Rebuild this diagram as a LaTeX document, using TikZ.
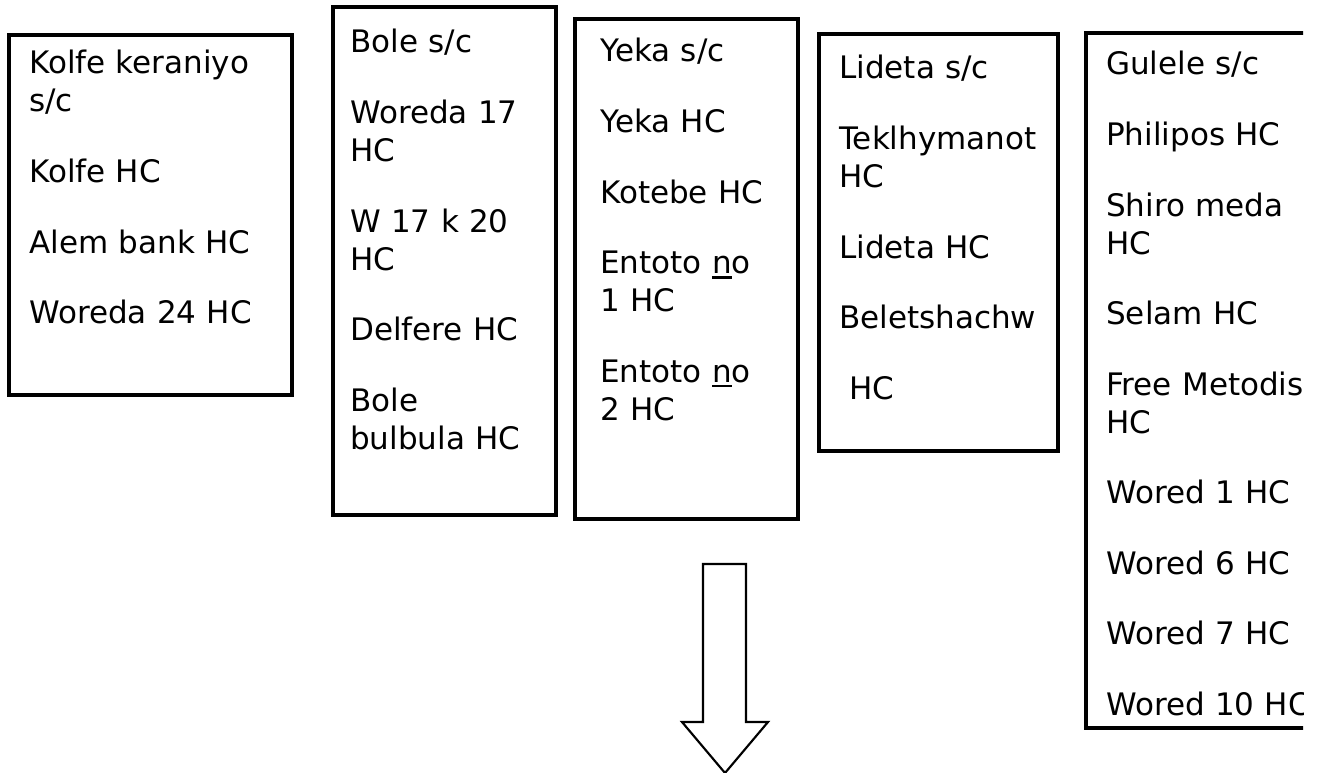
\documentclass[tikz,border=0pt]{standalone}
\usepackage{fontspec}
\setmainfont{DejaVu Sans}
\usetikzlibrary{calc}
\usetikzlibrary{positioning}

\newcommand{\paragap}{\\[24.4pt]}
\newcommand{\thickul}[1]{\setbox0\hbox{#1}\rlap{\rule[-3.8pt]{\wd0}{2pt}}\box0}

\begin{document}
\begin{tikzpicture}[x=0.75pt, y=-0.75pt,
        unit/.style={rectangle, draw, line width=2.5pt, anchor=north west, inner sep=0pt, outer sep=0pt},
        list/.style={anchor=base west, inner sep=0pt, text width=230pt, align=left, font=\fontsize{23.25}{28.5}\selectfont}]

        \useasboundingbox (0,0) rectangle (1321,773);

        % sub-city boxes
        \node[unit, minimum width=212.25pt, minimum height=270pt] (kolfe) at (9,35) {};
        \node[unit, minimum width=167.25pt, minimum height=381pt] (bole) at (333,7) {};
        \node[unit, minimum width=167.25pt, minimum height=375pt] (yeka) at (575,19) {};
        \node[unit, minimum width=179.25pt, minimum height=312.75pt] (lideta) at (819,34) {};

        % health centres
        \node[list] (kolfe list) at ($(kolfe.north west) + (20,39)$)
            {Kolfe keraniyo\\ s/c\paragap Kolfe HC\paragap Alem bank HC\paragap Woreda 24 HC};
        \node[list] (bole list) at ($(bole.north west) + (17,46)$)
            {Bole s/c\paragap Woreda 17\\ HC\paragap W 17 k 20\\ HC\paragap Delfere HC\paragap Bole\\ bulbula HC};
        \node[list] (yeka list) at ($(yeka.north west) + (25,43)$)
            {Yeka s/c\paragap Yeka HC\paragap Kotebe HC\paragap Entoto \thickul{n}o\\ 1 HC\paragap Entoto \thickul{n}o\\ 2 HC};
        \node[list] (lideta list) at ($(lideta.north west) + (20,45)$)
            {Lideta s/c\paragap Teklhymanot\\ HC\paragap Lideta HC\paragap Beletshachw\paragap \hspace*{.32em}HC};

        % last box runs off the page
        \begin{scope}
            \clip (1080,0) rectangle (1303,773);
            \node[unit, minimum width=225pt, minimum height=521.25pt] (gulele) at (1086,33) {};
            \node[list] (gulele list) at ($(gulele.north west) + (20,42)$)
                {Gulele s/c\paragap Philipos HC\paragap Shiro meda\\ HC\paragap Selam HC\paragap Free Metodis\\ HC\paragap Wored 1 HC\paragap Wored 6 HC\paragap Wored 7 HC\paragap Wored 10 HC};
        \end{scope}

        % down arrow
        \draw[line width=1.6pt, line join=miter] (703,564) -- (746,564) -- (746,722) -- (768,722) -- (725,773) -- (682,722) -- (703,722) -- cycle;

    \end{tikzpicture}
\end{document}
